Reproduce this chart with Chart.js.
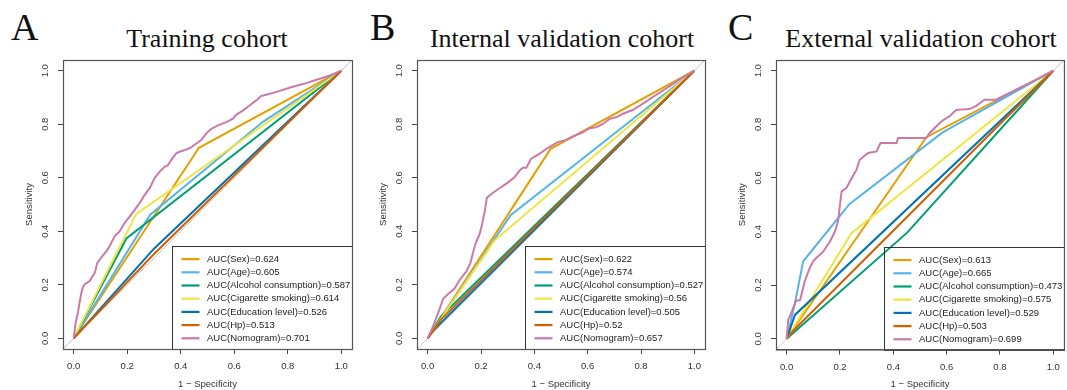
<!DOCTYPE html>
<html>
<head>
<meta charset="utf-8">
<title>ROC curves - nomogram vs single factors</title>
<script src="https://cdn.jsdelivr.net/npm/chart.js@4.4.1/dist/chart.umd.min.js"></script>
<style>
  body { margin: 0; background: #fff; width: 1067px; height: 390px; overflow: hidden; position: relative; }
  .panel { position: absolute; top: 0; height: 390px; }
  .letter { position: absolute; top: 8px; font-family: "Liberation Serif", "Times New Roman", serif; font-size: 38px; line-height: 38px; color: #111; }
  .title { position: absolute; top: 26px; font-family: "Liberation Serif", "Times New Roman", serif; font-size: 26px; line-height: 26px; color: #111; white-space: nowrap; transform: translateX(-50%); }
</style>
</head>
<body>

<div class="letter" style="left:11px">A</div>
<div class="title" style="left:207px">Training cohort</div>
<div class="letter" style="left:370px">B</div>
<div class="title" style="left:562px">Internal validation cohort</div>
<div class="letter" style="left:728px">C</div>
<div class="title" style="left:921px">External validation cohort</div>

<div class="panel" style="left:0px;width:356px"><canvas id="rocA" width="356" height="390"></canvas></div>
<div class="panel" style="left:356px;width:354px"><canvas id="rocB" width="354" height="390"></canvas></div>
<div class="panel" style="left:710px;width:357px"><canvas id="rocC" width="357" height="390"></canvas></div>

<script>
// Variables, in legend order
const varNames = ['Sex', 'Age', 'Alcohol consumption', 'Cigarette smoking', 'Education level', 'Hp', 'Nomogram'];
const varColors = ['#E69F00', '#56B4E9', '#009E73', '#F0E442', '#0072B2', '#D55E00', '#CC79A7'];
const tickVals = [0, 0.2, 0.4, 0.6, 0.8, 1.0];

// AUC values shown in the legends
const aucTraining = ['0.624', '0.605', '0.587', '0.614', '0.526', '0.513', '0.701'];
const aucInternal = ['0.622', '0.574', '0.527', '0.56', '0.505', '0.52', '0.657'];
const aucExternal = ['0.613', '0.665', '0.473', '0.575', '0.529', '0.503', '0.699'];

// ROC points [1 - specificity, sensitivity]
// A - training cohort
const trainSex = [[0, 0], [0.468, 0.712], [1, 1]];
const trainAge = [[0, 0], [0.286, 0.462], [0.706, 0.808], [1, 1]];
const trainAlcohol = [[0, 0], [0.197, 0.373], [1, 1]];
const trainSmoking = [[0, 0], [0.234, 0.465], [1, 1]];
const trainEducation = [[0, 0], [0.3, 0.335], [1, 1]];
const trainHp = [[0, 0], [0.3, 0.315], [1, 1]];
const trainNomogram = [[0, 0], [0.0075, 0.059], [0.016, 0.097], [0.021, 0.128], [0.029, 0.171], [0.034, 0.19],
  [0.041, 0.202], [0.06, 0.214], [0.071, 0.233], [0.08, 0.248], [0.088, 0.282], [0.105, 0.304], [0.122, 0.325],
  [0.134, 0.344], [0.153, 0.381], [0.172, 0.4], [0.19, 0.431], [0.209, 0.455], [0.228, 0.48], [0.246, 0.505],
  [0.265, 0.536], [0.284, 0.561], [0.302, 0.598], [0.321, 0.623], [0.34, 0.641], [0.352, 0.647], [0.364, 0.666],
  [0.383, 0.691], [0.396, 0.697], [0.42, 0.705], [0.439, 0.713], [0.458, 0.728], [0.476, 0.74], [0.495, 0.765],
  [0.514, 0.783], [0.539, 0.796], [0.57, 0.808], [0.595, 0.821], [0.607, 0.835], [0.632, 0.851], [0.657, 0.87],
  [0.682, 0.889], [0.7, 0.905], [0.719, 0.91], [0.756, 0.92], [0.806, 0.936], [0.856, 0.95], [0.905, 0.965],
  [0.955, 0.981], [1, 1]];

// B - internal validation cohort
const internalSex = [[0, 0], [0.461, 0.708], [1, 1]];
const internalAge = [[0, 0], [0.311, 0.46], [1, 1]];
const internalAlcohol = [[0, 0], [0.05, 0.082], [1, 1]];
const internalSmoking = [[0, 0], [0.251, 0.366], [1, 1]];
const internalEducation = [[0, 0], [0.02, 0.028], [1, 1]];
const internalHp = [[0, 0], [0.05, 0.07], [1, 1]];
const internalNomogram = [[0, 0], [0.014, 0.03], [0.03, 0.07], [0.045, 0.11], [0.058, 0.148], [0.08, 0.168],
  [0.1, 0.185], [0.12, 0.218], [0.145, 0.25], [0.16, 0.28], [0.17, 0.32], [0.18, 0.355], [0.195, 0.39],
  [0.205, 0.43], [0.215, 0.48], [0.222, 0.525], [0.24, 0.54], [0.265, 0.558], [0.295, 0.578], [0.326, 0.602],
  [0.345, 0.627], [0.357, 0.637], [0.37, 0.637], [0.388, 0.671], [0.419, 0.689], [0.451, 0.712], [0.488, 0.733],
  [0.513, 0.739], [0.544, 0.754], [0.582, 0.77], [0.607, 0.785], [0.632, 0.789], [0.657, 0.801], [0.682, 0.82],
  [0.707, 0.826], [0.732, 0.839], [0.769, 0.853], [0.806, 0.876], [0.844, 0.901], [0.881, 0.925], [0.919, 0.95],
  [0.956, 0.975], [1, 1]];

// C - external validation cohort
const externalSex = [[0, 0], [0.524, 0.752], [1, 1]];
const externalAge = [[0, 0], [0.031, 0.133], [0.062, 0.289], [0.236, 0.503], [0.585, 0.77], [1, 1]];
const externalAlcohol = [[0, 0], [0.452, 0.396], [1, 1]];
const externalSmoking = [[0, 0], [0.243, 0.394], [1, 1]];
const externalEducation = [[0, 0], [0.031, 0.089], [1, 1]];
const externalHp = [[0, 0], [0.02, 0.026], [1, 1]];
const externalNomogram = [[0, 0], [0.006, 0.071], [0.019, 0.1], [0.035, 0.142], [0.05, 0.144], [0.056, 0.167],
  [0.068, 0.215], [0.087, 0.265], [0.1, 0.29], [0.112, 0.302], [0.137, 0.325], [0.162, 0.362], [0.181, 0.4],
  [0.193, 0.44], [0.2, 0.5], [0.206, 0.55], [0.224, 0.562], [0.237, 0.587], [0.262, 0.631], [0.274, 0.668],
  [0.305, 0.693], [0.337, 0.699], [0.352, 0.73], [0.412, 0.73], [0.418, 0.749], [0.524, 0.749], [0.536, 0.768],
  [0.574, 0.805], [0.586, 0.815], [0.611, 0.83], [0.636, 0.854], [0.686, 0.857], [0.711, 0.869], [0.742, 0.892],
  [0.786, 0.892], [0.81, 0.904], [0.86, 0.929], [0.935, 0.966], [1, 1]];

const sansFont = '"Liberation Sans", Arial, sans-serif';

// legend box drawn inside the plot, bottom right, like R's legend("bottomright")
const rocLegend = {
  id: 'rocLegend',
  afterDraw(chart, args, opts) {
    const ctx = chart.ctx;
    const area = chart.chartArea;
    ctx.save();
    ctx.font = '9.5px ' + sansFont;
    let textW = 0;
    opts.labels.forEach(l => { textW = Math.max(textW, ctx.measureText(l).width); });
    const boxW = Math.round(textW + 36.5);
    const boxH = 103;
    const x0 = Math.round(area.right - boxW) + 0.5;
    const y0 = Math.round(area.bottom - boxH) + 0.5;
    ctx.strokeStyle = '#333';
    ctx.lineWidth = 1;
    ctx.strokeRect(x0, y0, boxW, boxH);
    opts.labels.forEach((l, i) => {
      const y = y0 + 12.6 + i * 13.2;
      ctx.strokeStyle = opts.colors[i];
      ctx.lineWidth = 2.2;
      ctx.beginPath();
      ctx.moveTo(x0 + 9, y);
      ctx.lineTo(x0 + 27, y);
      ctx.stroke();
      ctx.fillStyle = '#222';
      ctx.textBaseline = 'middle';
      ctx.fillText(l, x0 + 34.5, y);
    });
    ctx.restore();
  }
};

// box around the whole plot region
const plotBox = {
  id: 'plotBox',
  afterDraw(chart) {
    const a = chart.chartArea;
    const ctx = chart.ctx;
    ctx.save();
    ctx.strokeStyle = '#555';
    ctx.lineWidth = 1.2;
    ctx.strokeRect(a.left + 0.5, a.top + 0.5, a.right - a.left, a.bottom - a.top);
    ctx.restore();
  }
};

function makeRoc(canvasId, curves, aucs, layout) {
  const datasets = curves.map((pts, i) => ({
    label: varNames[i],
    data: pts.map(p => ({ x: p[0], y: p[1] })),
    borderColor: varColors[i],
    borderWidth: 2,
    pointRadius: 0,
    tension: 0,
    fill: false,
    order: 7 - i
  }));
  // grey reference diagonal across the full plot region
  datasets.push({
    label: 'reference',
    data: [{ x: -0.04, y: -0.04 }, { x: 1.04, y: 1.04 }],
    borderColor: '#c9c9c9',
    borderWidth: 1,
    pointRadius: 0,
    order: 20
  });

  const tickFont = { family: sansFont, size: 9.5 };

  new Chart(document.getElementById(canvasId), {
    type: 'line',
    data: { datasets: datasets },
    plugins: [rocLegend, plotBox],
    options: {
      responsive: false,
      animation: false,
      layout: { padding: { top: 60, right: layout.padRight, left: 0, bottom: 0 } },
      plugins: {
        legend: { display: false },
        tooltip: { enabled: false },
        rocLegend: {
          labels: varNames.map((n, i) => 'AUC(' + n + ')=' + aucs[i]),
          colors: varColors
        }
      },
      scales: {
        x: {
          type: 'linear',
          min: -0.04,
          max: 1.04,
          afterBuildTicks: s => { s.ticks = tickVals.map(v => ({ value: v })); },
          afterFit: s => { s.height = 390 - layout.bottom; },
          ticks: { callback: v => v.toFixed(1), font: tickFont, color: '#333', padding: 7, maxRotation: 0, autoSkip: false },
          grid: { drawOnChartArea: false, drawTicks: true, tickLength: 5, tickColor: '#444' },
          border: { display: true, color: '#555' },
          title: { display: true, text: '1 − Specificity', font: tickFont, color: '#333', padding: { top: 0, bottom: 0 } }
        },
        y: {
          type: 'linear',
          min: -0.04,
          max: 1.04,
          afterBuildTicks: s => { s.ticks = tickVals.map(v => ({ value: v })); },
          afterFit: s => { s.width = layout.yAxisW; },
          ticks: { callback: v => v.toFixed(1), font: tickFont, color: '#333', padding: 6, minRotation: 90, maxRotation: 90, crossAlign: 'center', autoSkip: false },
          grid: { drawOnChartArea: false, drawTicks: true, tickLength: 5, tickColor: '#444' },
          border: { display: true, color: '#555' },
          title: { display: true, text: 'Sensitivity', font: tickFont, color: '#333', padding: layout.yAxisW - 34 - 5.7 }
        }
      }
    }
  });
}

function initCharts() {
  if (typeof Chart === 'undefined') {
    console.error('Chart.js is not loaded!');
    return;
  }
  makeRoc('rocA',
    [trainSex, trainAge, trainAlcohol, trainSmoking, trainEducation, trainHp, trainNomogram],
    aucTraining, { yAxisW: 63, padRight: 4, bottom: 349 });
  makeRoc('rocB',
    [internalSex, internalAge, internalAlcohol, internalSmoking, internalEducation, internalHp, internalNomogram],
    aucInternal, { yAxisW: 61, padRight: 5, bottom: 349 });
  makeRoc('rocC',
    [externalSex, externalAge, externalAlcohol, externalSmoking, externalEducation, externalHp, externalNomogram],
    aucExternal, { yAxisW: 66, padRight: 3, bottom: 349.5 });
}

document.addEventListener('DOMContentLoaded', initCharts);
</script>
</body>
</html>
